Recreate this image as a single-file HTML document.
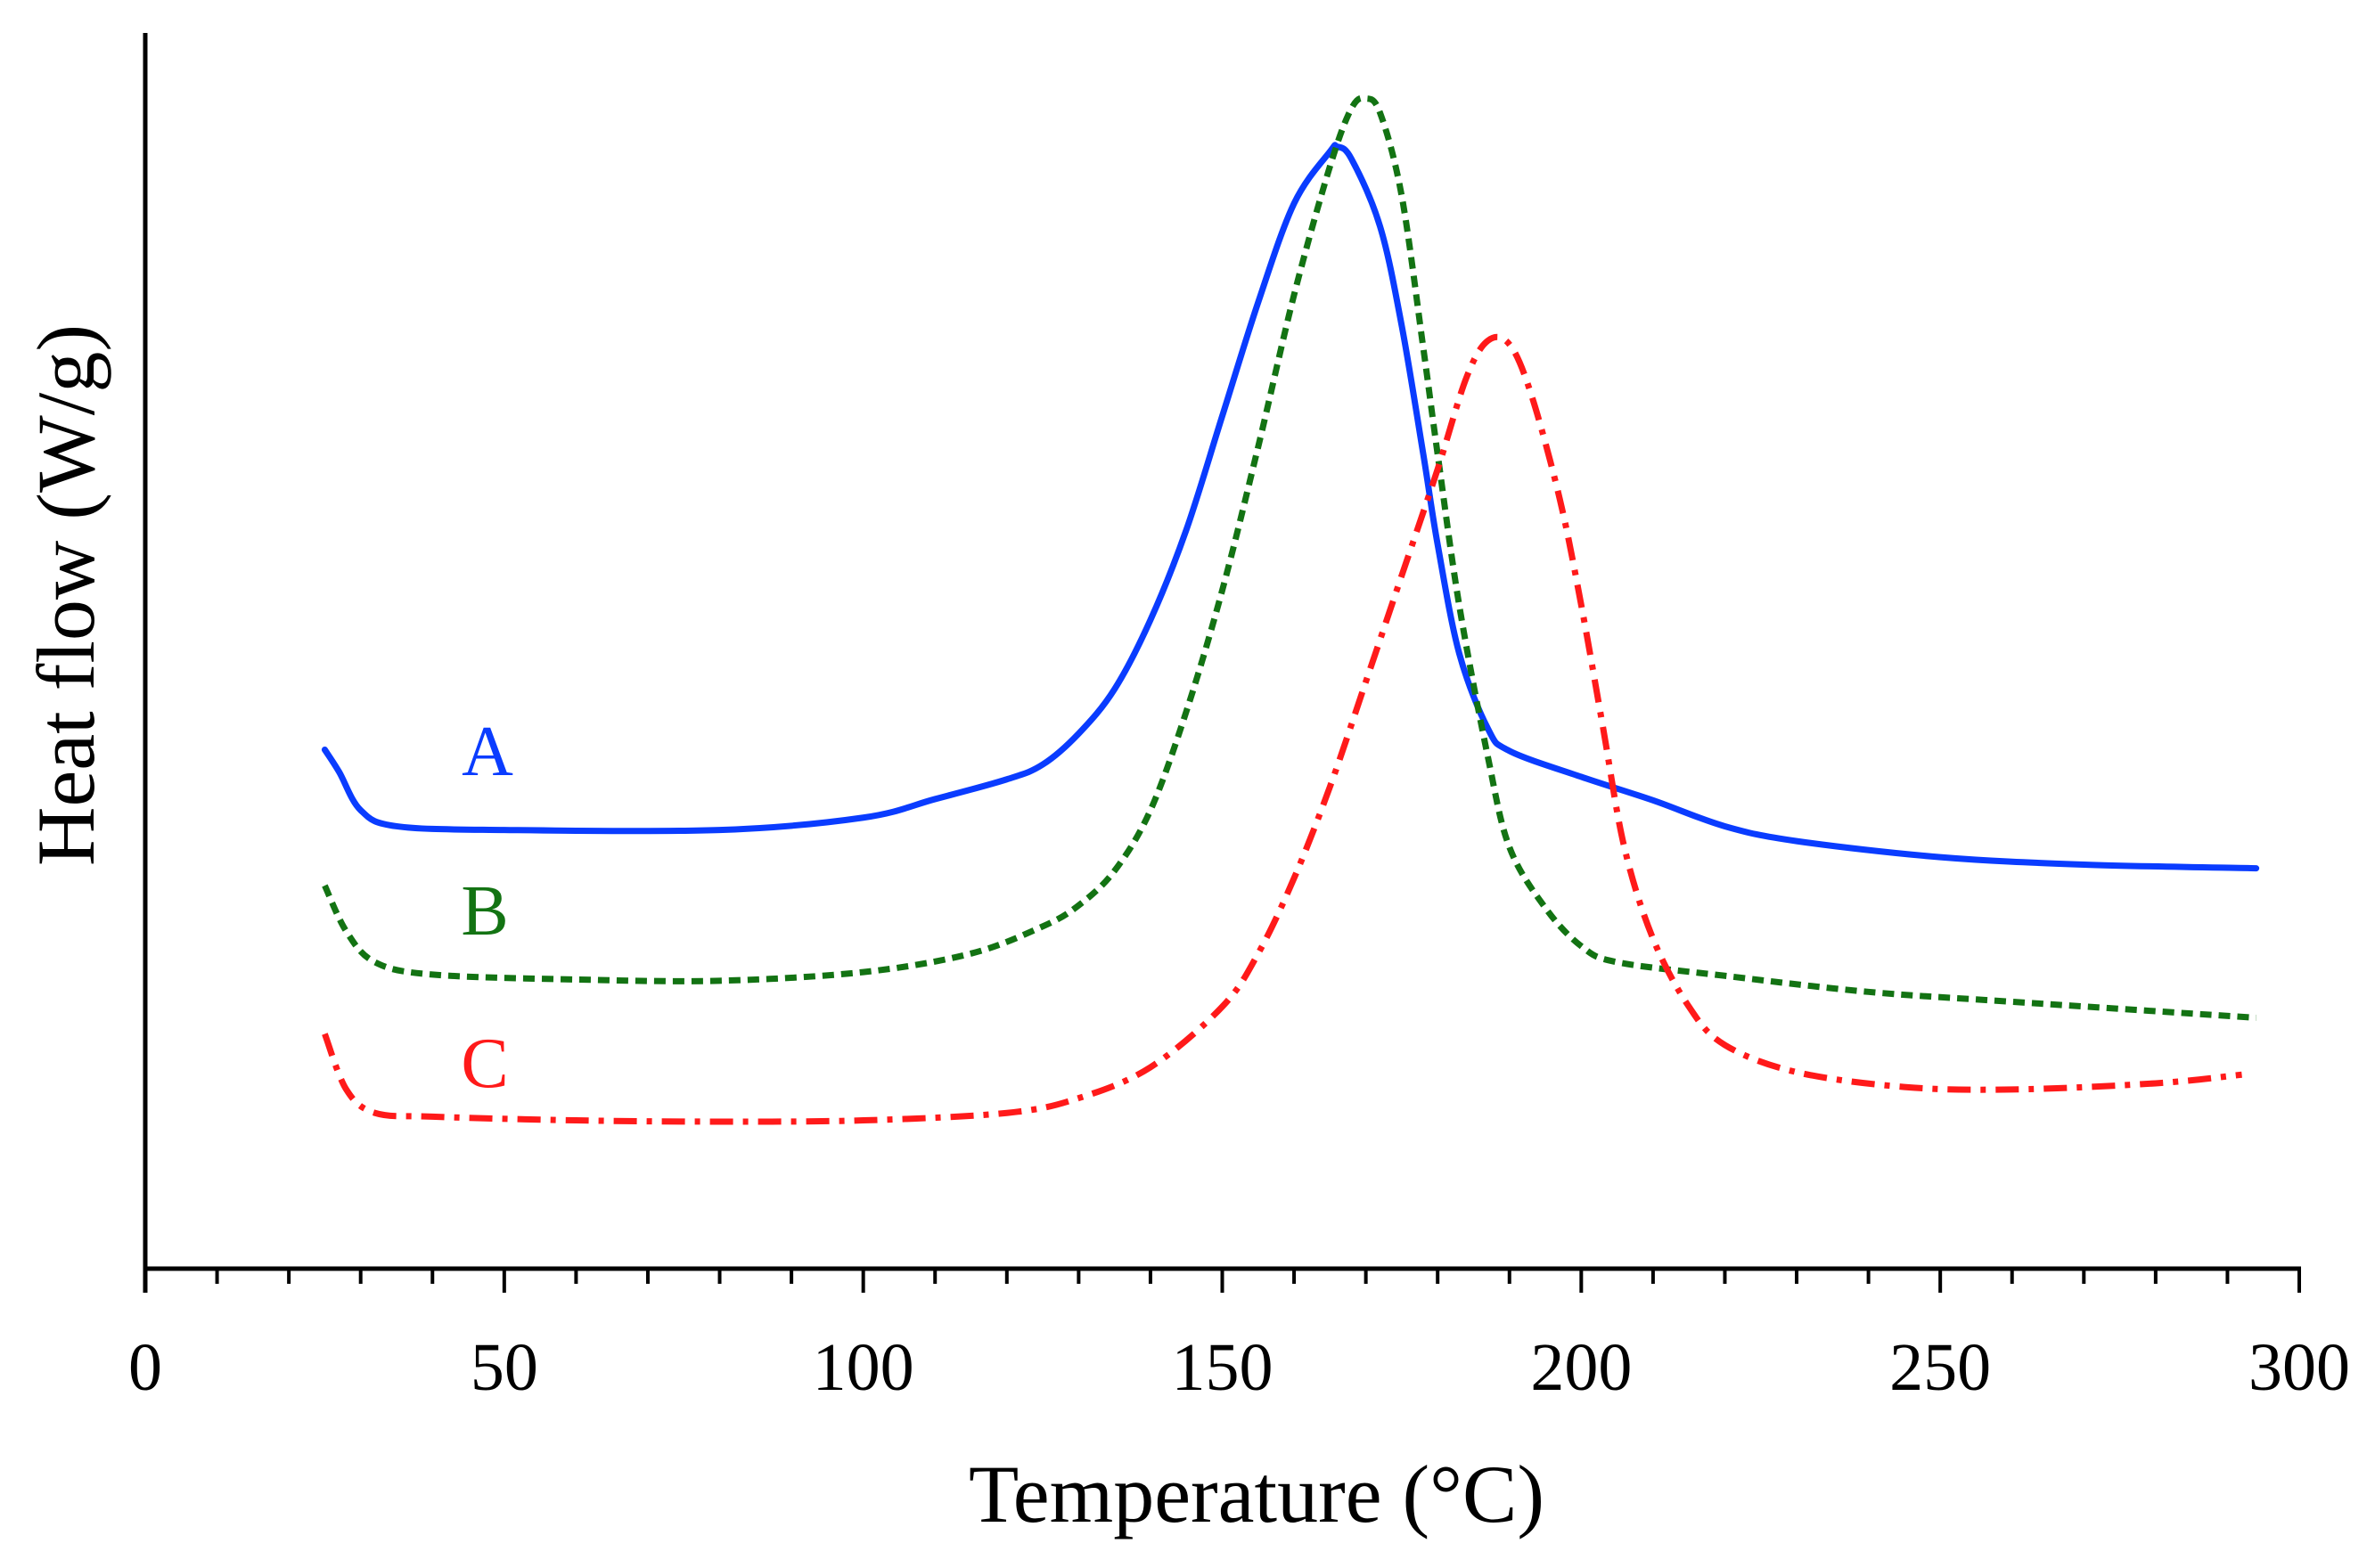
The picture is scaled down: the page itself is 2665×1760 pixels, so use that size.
<!DOCTYPE html>
<html><head><meta charset="utf-8"><style>
html,body{margin:0;padding:0;background:#fff;}
svg{display:block;font-family:"Liberation Serif",serif;}
</style></head><body>
<svg id="chart" width="2665" height="1760" viewBox="0 0 2665 1760" xmlns="http://www.w3.org/2000/svg">
<g id="axes"></g>
<g id="series"></g>
<text x="1410" y="1708" font-size="92" text-anchor="middle">Temperature (°C)</text>
<text transform="translate(105,668) rotate(-90)" font-size="92" text-anchor="middle">Heat flow (W/g)</text>
<text x="547" y="870" font-size="80" fill="#0a3cff" text-anchor="middle">A</text>
<text x="544" y="1049" font-size="80" fill="#137313" text-anchor="middle">B</text>
<text x="544" y="1220" font-size="80" fill="#ff1a1a" text-anchor="middle">C</text>
</svg>
<script>
const xTicks = [0,50,100,150,200,250,300];
const tA = [25,27,30,35,50,80,100,110,120,125,130,135,140,145,150,155,160,165,166,168,172,175,178,180,183,187,190,200,210,220,230,250,270,294];
const vA = [42.0,40.2,37.1,35.8,35.5,35.5,36.5,38.0,39.6,40.8,43.3,46.9,52.5,59.8,69.0,78.2,86.2,90.4,90.8,89.8,84.3,76.3,65.9,58.6,49.8,43.7,41.9,39.8,37.9,35.8,34.6,33.3,32.7,32.4];
const tB = [25,28,32,40,60,80,100,115,125,130,135,140,145,150,155,160,165,168,170,172,175,178,180,183,187,190,195,200,205,220,240,260,294];
const vB = [31.0,27.3,24.8,23.8,23.4,23.3,24.0,25.5,27.7,29.4,32.2,37.1,45.1,54.9,66.5,78.8,89.2,93.9,94.7,93.5,86.8,74.5,65.9,53.7,41.4,34.1,29.2,26.1,24.8,23.7,22.4,21.6,20.3];
const tC = [25,28,32,40,60,80,100,120,130,140,150,155,160,165,170,175,180,184,187,190,193,197,200,203,206,210,215,220,230,245,260,280,292];
const vC = [19.0,14.5,12.6,12.3,12.0,11.9,12.0,12.6,13.8,16.3,21.2,25.5,31.6,39.0,47.5,56.1,64.7,72.1,75.1,74.8,70.8,62.3,53.7,43.9,34.1,26.7,21.2,18.1,15.9,14.7,14.5,15.0,15.7];

const X0=163, X1=2580, Y0=1424, Y1=37;
function xs(t){return X0+(t/300)*(X1-X0);}
function ys(v){return Y0-(v/100)*(Y0-Y1);}
const NS="http://www.w3.org/2000/svg";
const axes=document.getElementById('axes');
function mk(tag,attrs,parent){const e=document.createElementNS(NS,tag);for(const k in attrs)e.setAttribute(k,attrs[k]);parent.appendChild(e);return e;}
let yl=mk('line',{x1:X0,y1:Y1,x2:X0,y2:Y0+27,stroke:'#000','stroke-width':5},axes);


let xl=mk('line',{x1:X0-2,y1:Y0,x2:X1+2,y2:Y0,stroke:'#000','stroke-width':5},axes);


for(let t=10;t<=300;t+=10){
  const major=t%50===0;
  const tk=mk('line',{x1:xs(t),y1:Y0,x2:xs(t),y2:Y0+(major?27:17),stroke:'#000','stroke-width':4},axes);
  
  
}
xTicks.forEach(t=>{
  const tx=mk('text',{x:xs(t),y:1560,'font-size':76,'text-anchor':'middle'},axes);
  tx.textContent=String(t);
  
  
});
function pathFrom(ts,vs){
  const p=ts.map((t,i)=>[xs(t),ys(vs[i])]);
  let d='M'+p[0][0]+','+p[0][1];
  for(let i=0;i<p.length-1;i++){
    const p0=p[Math.max(0,i-1)],p1=p[i],p2=p[i+1],p3=p[Math.min(p.length-1,i+2)];
    const c1=[p1[0]+(p2[0]-p0[0])/6,p1[1]+(p2[1]-p0[1])/6];
    const c2=[p2[0]-(p3[0]-p1[0])/6,p2[1]-(p3[1]-p1[1])/6];
    d+=' C'+c1[0]+','+c1[1]+' '+c2[0]+','+c2[1]+' '+p2[0]+','+p2[1];
  }
  return d;
}
const ser=document.getElementById('series');
let pa=mk('path',{d:pathFrom(tA,vA),fill:'none',stroke:'#0a3cff','stroke-width':7,'stroke-linecap':'round'},ser);


let pb=mk('path',{d:pathFrom(tB,vB),fill:'none',stroke:'#137313','stroke-width':7,'stroke-dasharray':'13 8'},ser);


let pc=mk('path',{d:pathFrom(tC,vC),fill:'none',stroke:'#ff1a1a','stroke-width':7,'stroke-dasharray':'26 11 6 11'},ser);


</script>
</body></html>
